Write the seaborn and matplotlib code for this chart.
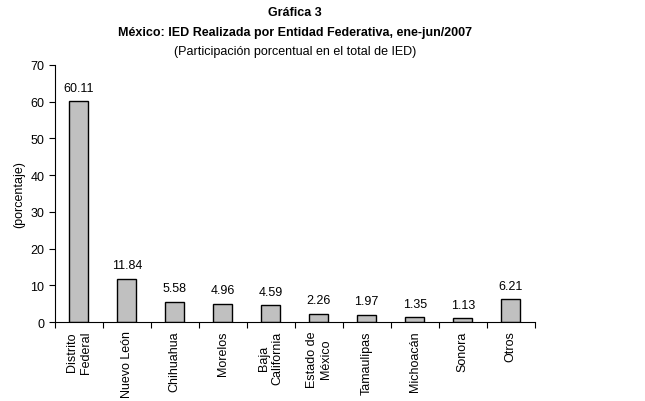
import matplotlib
matplotlib.use("Agg")
import matplotlib.pyplot as plt
import seaborn as sns
import pandas as pd
import numpy as np

estados = ["Distrito\nFederal", "Nuevo León", "Chihuahua", "Morelos", "Baja\nCalifornia",
           "Estado de\nMéxico", "Tamaulipas", "Michoacán", "Sonora", "Otros"]
participacion = [60.11, 11.84, 5.58, 4.96, 4.59, 2.26, 1.97, 1.35, 1.13, 6.21]
yticks = [0, 10, 20, 30, 40, 50, 60, 70]

sns.set_style("white")
plt.rcParams['font.family'] = ['Liberation Sans', 'DejaVu Sans']
plt.rcParams['font.size'] = 9
plt.rcParams['text.color'] = 'black'
plt.rcParams['axes.labelcolor'] = 'black'
plt.rcParams['xtick.color'] = 'black'
plt.rcParams['ytick.color'] = 'black'

df = pd.DataFrame({'estado': estados, 'valor': participacion})

fig = plt.figure(figsize=(6.45, 4.02), dpi=100)
ax = fig.add_axes([0.085, 0.1965, 0.744, 0.6395])

sns.barplot(data=df, x='estado', y='valor', color='#C0C0C0', edgecolor='black',
            linewidth=1.0, width=0.4, saturation=1, ax=ax)

for i, v in enumerate(participacion):
    ax.text(i, v + 2.0, f"{v:.2f}", ha='center', va='bottom', fontsize=9, color='black')

ax.set_xlim(-0.5, len(estados) - 0.5)
ax.set_ylim(0, 70)
ax.set_yticks(yticks)
ax.set_ylabel("(porcentaje)", fontsize=9, labelpad=4, color='black')
ax.set_xlabel("")

# ticks at category boundaries
ax.set_xticks(np.arange(len(estados) + 1) - 0.5)
ax.set_xticklabels([])
ax.set_xticks(np.arange(len(estados)), minor=True)
ax.set_xticklabels(estados, minor=True, rotation=90, ha='center', va='top',
                   multialignment='center', fontsize=9)
ax.tick_params(axis='x', which='minor', length=0, pad=6, labelcolor='black')
ax.tick_params(axis='x', which='major', direction='out', length=4, width=0.8, color='black', bottom=True)
ax.tick_params(axis='y', direction='out', length=4, width=0.8, color='black', left=True,
               labelsize=9, labelcolor='black')

for s in ['top', 'right']:
    ax.spines[s].set_visible(False)
for s in ['left', 'bottom']:
    ax.spines[s].set_color('black')
    ax.spines[s].set_linewidth(0.8)

fig.text(0.457, 0.968, "Gráfica 3", ha='center', va='center', fontsize=9, fontweight='bold')
fig.text(0.457, 0.918, "México: IED Realizada por Entidad Federativa, ene-jun/2007",
         ha='center', va='center', fontsize=9, fontweight='bold')
fig.text(0.457, 0.871, "(Participación porcentual en el total de IED)",
         ha='center', va='center', fontsize=9)

fig.savefig("out.png", dpi=100)
